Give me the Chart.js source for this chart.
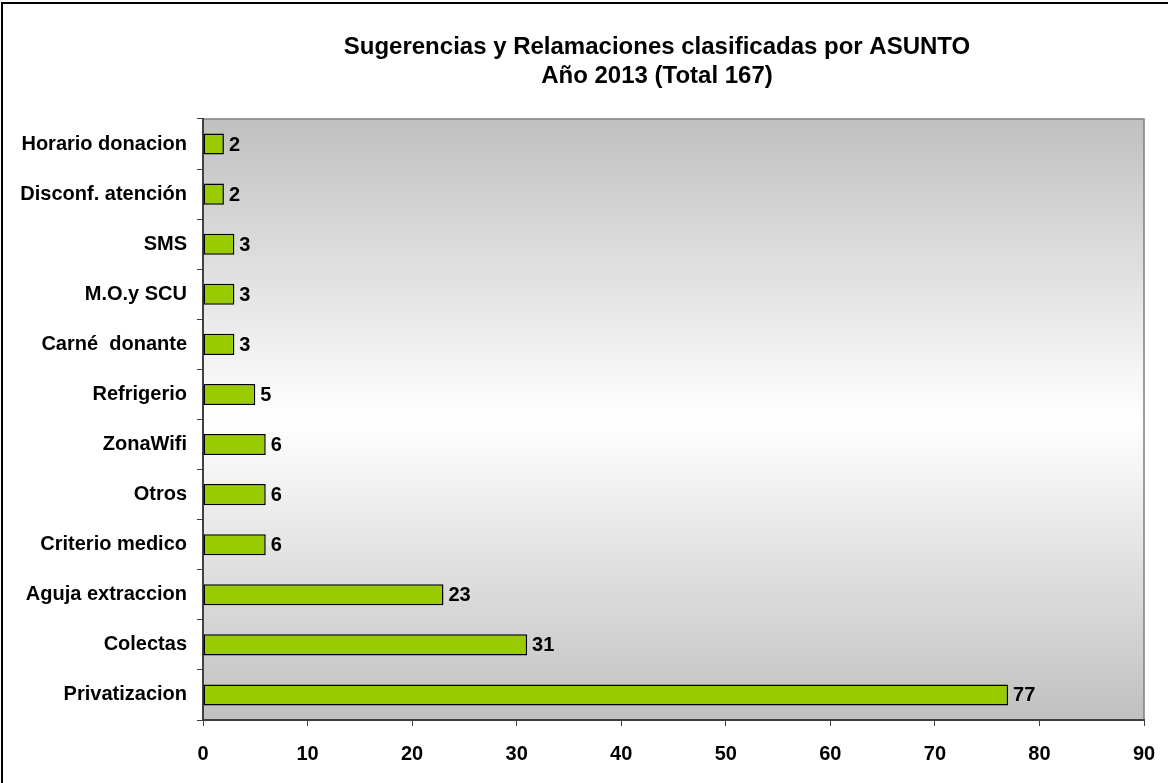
<!DOCTYPE html>
<html>
<head>
<meta charset="utf-8">
<script src="https://cdn.jsdelivr.net/npm/chart.js@4.4.1/dist/chart.umd.min.js"></script>
<style>
html,body{margin:0;padding:0;background:#fff;}
#wrap{width:1168px;height:783px;position:relative;}
</style>
</head>
<body>
<div id="wrap"><canvas id="c" width="1168" height="783"></canvas></div>
<script>
const categories = ["Horario donacion","Disconf. atención","SMS","M.O.y SCU","Carné  donante","Refrigerio","ZonaWifi","Otros","Criterio medico","Aguja extraccion","Colectas","Privatizacion"];
const values = [2,2,3,3,3,5,6,6,6,23,31,77];
const titleLines = ["Sugerencias y Relamaciones clasificadas por ASUNTO","Año 2013 (Total 167)"];
const xMin = 0, xMax = 90, xStep = 10;

const FONT = "'Liberation Sans', Arial, sans-serif";

const bgPlugin = {
  id: 'bgPlugin',
  beforeDraw(chart) {
    const {ctx, chartArea: a} = chart;
    ctx.save();
    ctx.fillStyle = '#fff';
    ctx.fillRect(0,0,chart.width,chart.height);
    // outer border (left & top)
    ctx.strokeStyle = '#000';
    ctx.lineWidth = 2;
    ctx.beginPath();
    ctx.moveTo(2, chart.height);
    ctx.lineTo(2, 3);
    ctx.lineTo(chart.width, 3);
    ctx.stroke();
    // plot gradient
    const g = ctx.createLinearGradient(0, a.top, 0, a.bottom);
    g.addColorStop(0, '#c0c0c0');
    g.addColorStop(0.5, '#ffffff');
    g.addColorStop(1, '#c0c0c0');
    ctx.fillStyle = g;
    ctx.fillRect(a.left, a.top, a.right - a.left, a.bottom - a.top);
    ctx.strokeStyle = '#808080';
    ctx.lineWidth = 1.5;
    ctx.beginPath();
    ctx.moveTo(a.left, a.top);
    ctx.lineTo(a.right, a.top);
    ctx.lineTo(a.right, a.bottom);
    ctx.stroke();
    // title
    ctx.fillStyle = '#000';
    ctx.font = 'bold 24px ' + FONT;
    ctx.textAlign = 'center';
    ctx.textBaseline = 'middle';
    ctx.fillText(titleLines[0], 657, 47);
    ctx.fillText(titleLines[1], 657, 76);
    ctx.restore();
  },
  afterDatasetsDraw(chart) {
    const {ctx} = chart;
    const meta = chart.getDatasetMeta(0);
    ctx.save();
    ctx.fillStyle = '#000';
    ctx.font = 'bold 20px ' + FONT;
    ctx.textAlign = 'left';
    ctx.textBaseline = 'middle';
    meta.data.forEach((bar, i) => {
      ctx.fillText(String(values[i]), bar.x + 5, bar.y + 1);
    });
    ctx.restore();
  }
};

new Chart(document.getElementById('c'), {
  type: 'bar',
  data: {
    labels: categories,
    datasets: [{
      data: values,
      backgroundColor: '#99cc00',
      borderColor: '#000',
      borderWidth: 1.5,
      borderSkipped: false,
      barPercentage: 0.42,
      categoryPercentage: 1
    }]
  },
  options: {
    indexAxis: 'y',
    responsive: false,
    animation: false,
    devicePixelRatio: 1,
    layout: {padding: {top: 119, right: 24, left: 0, bottom: 0}},
    plugins: {legend: {display: false}, title: {display: false}, tooltip: {enabled: false}},
    scales: {
      x: {
        min: xMin, max: xMax,
        ticks: {stepSize: xStep, color: '#000', font: {family: FONT, size: 20, weight: 'bold'}, padding: 16, maxRotation: 0},
        grid: {drawOnChartArea: false, drawTicks: true, tickLength: 6, color: '#404040', lineWidth: 1},
        border: {display: true, color: '#404040', width: 2},
        afterFit(s) { s.height = 63; s.paddingLeft = 0; s.paddingRight = 0; }
      },
      y: {
        ticks: {color: '#000', font: {family: FONT, size: 20, weight: 'bold'}, padding: 10, autoSkip: false},
        grid: {drawOnChartArea: false, drawTicks: true, tickLength: 6, offset: true, color: '#404040', lineWidth: 1},
        border: {display: true, color: '#404040', width: 2},
        afterFit(s) { s.width = 203; s.paddingTop = 0; s.paddingBottom = 0; }
      }
    }
  },
  plugins: [bgPlugin]
});
</script>
</body>
</html>
